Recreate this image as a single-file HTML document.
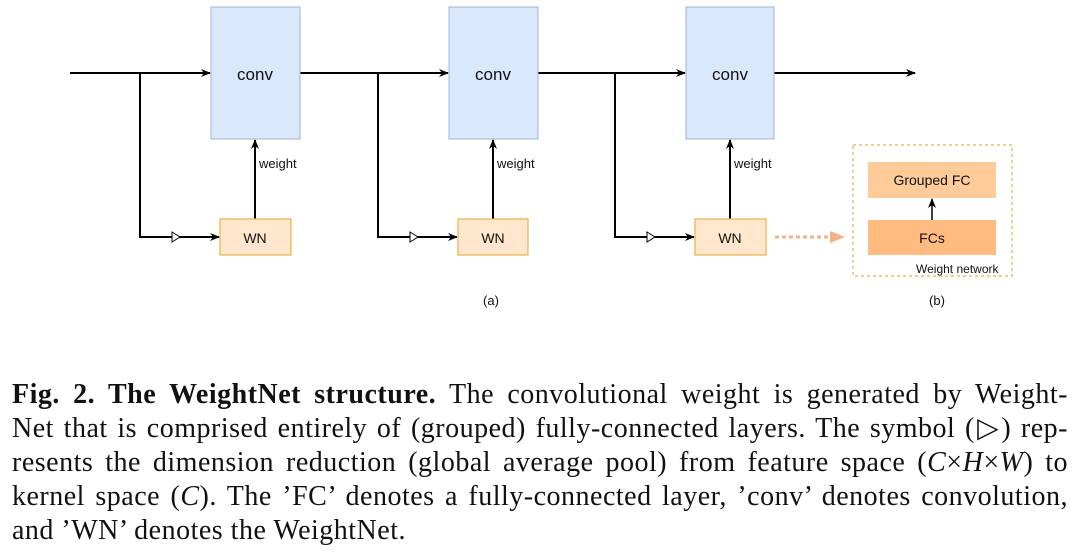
<!DOCTYPE html>
<html><head><meta charset="utf-8"><style>
body{margin:0;width:1080px;height:556px;background:#fff;position:relative;overflow:hidden;font-family:"Liberation Sans",sans-serif}
.cap{position:absolute;left:12px;width:1056px;font-family:"Liberation Serif",serif;font-size:28px;letter-spacing:0.5px;color:#111;line-height:34px;white-space:nowrap}
.j{text-align:justify;text-align-last:justify}
</style></head><body>
<svg width="1080" height="340" style="position:absolute;left:0;top:0" font-family="Liberation Sans, sans-serif">
<defs>
<marker id="a" markerWidth="10" markerHeight="8" refX="9" refY="4" orient="auto" markerUnits="userSpaceOnUse"><path d="M0,0 L10,4 L0,8 L3,4z" fill="#000"/></marker>
</defs>
<g stroke="#000" stroke-width="2" fill="none">
<line x1="70" y1="73" x2="210" y2="73" marker-end="url(#a)"/>
<line x1="300" y1="73" x2="448" y2="73" marker-end="url(#a)"/>
<line x1="538" y1="73" x2="685" y2="73" marker-end="url(#a)"/>
<line x1="774" y1="73" x2="915" y2="73" marker-end="url(#a)"/>
<polyline points="140,73 140,237 219,237" marker-end="url(#a)"/>
<polyline points="378,73 378,237 457,237" marker-end="url(#a)"/>
<polyline points="615,73 615,237 694,237" marker-end="url(#a)"/>
<line x1="255" y1="219" x2="255" y2="140" marker-end="url(#a)"/>
<line x1="493" y1="219" x2="493" y2="140" marker-end="url(#a)"/>
<line x1="730" y1="219" x2="730" y2="140" marker-end="url(#a)"/>
<line x1="932" y1="220" x2="932" y2="199" marker-end="url(#a)" stroke-width="1.5"/>
</g>
<g fill="#fff" stroke="#000" stroke-width="1">
<path d="M172,232 L180,237 L172,242z"/><path d="M410,232 L418,237 L410,242z"/><path d="M647,232 L655,237 L647,242z"/>
</g>
<g fill="#dae8fc" stroke="#9db5d8" stroke-width="1">
<rect x="211" y="7" width="89" height="132"/><rect x="449" y="7" width="89" height="132"/><rect x="686" y="7" width="88" height="132"/>
</g>
<g fill="#ffe6cc" stroke="#e8b24a" stroke-width="1.2">
<rect x="220" y="219" width="71" height="36"/><rect x="458" y="219" width="70" height="36"/><rect x="695" y="219" width="71" height="36"/>
</g>
<line x1="775" y1="237" x2="835" y2="237" stroke="#f4b183" stroke-width="3" stroke-dasharray="4,3"/>
<path d="M830,231 L845,237 L830,243z" fill="#f4b183"/>
<rect x="853" y="145" width="159" height="131" fill="none" stroke="#e0b050" stroke-width="1.2" stroke-dasharray="3,3"/>
<rect x="868" y="162" width="128" height="36" fill="#ffcc99"/>
<rect x="868" y="220" width="128" height="35" fill="#ffbb80"/>
<g font-size="17" text-anchor="middle" fill="#111">
<text x="255" y="80">conv</text><text x="493" y="80">conv</text><text x="730" y="80">conv</text>
</g>
<g font-size="14" text-anchor="middle" fill="#111">
<text x="255" y="243">WN</text><text x="493" y="243">WN</text><text x="730" y="243">WN</text>
<text x="932" y="185">Grouped FC</text><text x="932" y="243">FCs</text>
<text x="491" y="305" font-size="13">(a)</text><text x="937" y="305" font-size="13">(b)</text>
</g>
<g font-size="13" fill="#111">
<text x="259" y="168">weight</text><text x="497" y="168">weight</text><text x="734" y="168">weight</text>
<text x="916" y="273" font-size="12">Weight network</text>
</g>
</svg>
<div class="cap j" style="top:378px"><b>Fig. 2. The WeightNet structure.</b> The convolutional weight is generated by Weight-</div>
<div class="cap j" style="top:412px">Net that is comprised entirely of (grouped) fully-connected layers. The symbol (▷) rep-</div>
<div class="cap j" style="top:446px">resents the dimension reduction (global average pool) from feature space (<i>C</i>×<i>H</i>×<i>W</i>) to</div>
<div class="cap j" style="top:480px">kernel space (<i>C</i>). The ’FC’ denotes a fully-connected layer, ’conv’ denotes convolution,</div>
<div class="cap" style="top:514px">and ’WN’ denotes the WeightNet.</div>
</body></html>
